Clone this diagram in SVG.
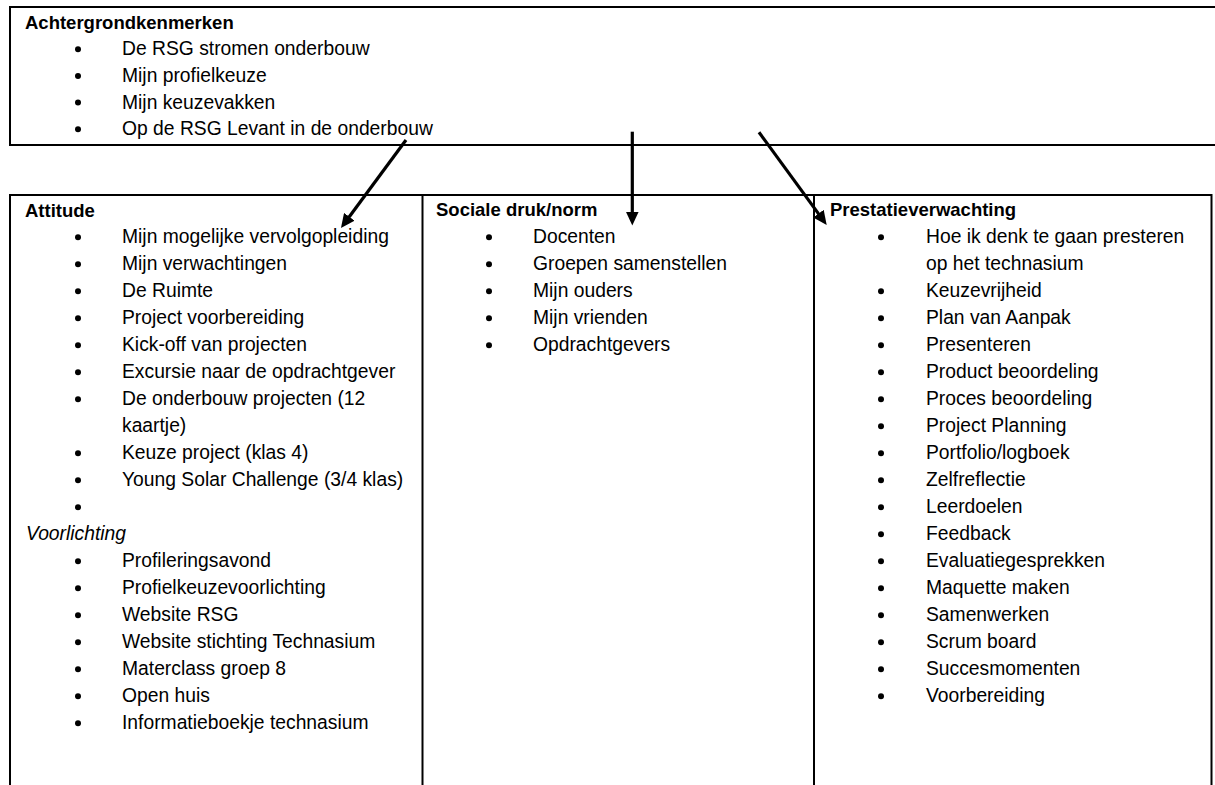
<svg xmlns="http://www.w3.org/2000/svg" width="1215" height="785" viewBox="0 0 1215 785">
<defs>
<style>
text{font-family:"Liberation Sans",Arial,sans-serif;font-size:19.3px;fill:#000}
.h{font-weight:bold;font-size:18.5px}
.it{font-style:italic}
.b{fill:#000}
.frame{stroke:#000;stroke-width:2;fill:none}
.arrow{stroke:#000;stroke-width:3.2;fill:none;marker-end:url(#ah)}
</style>
<marker id="ah" markerUnits="userSpaceOnUse" markerWidth="14" markerHeight="13" refX="4" refY="6.5" orient="auto" viewBox="0 0 14 13">
<path d="M0,0 L14,6.5 L0,13 z" fill="#000"/>
</marker>
</defs>
<rect width="1215" height="785" fill="#fff"/>

<g id="achtergrondkenmerken">
<path class="frame" d="M1215,7 H10 V145 H1215"/>
<text class="h" x="25" y="28.5">Achtergrondkenmerken</text>
<circle class="b" cx="78" cy="49.2" r="3"/><text x="122" y="55.2">De RSG stromen onderbouw</text>
<circle class="b" cx="78" cy="75.9" r="3"/><text x="122" y="81.9">Mijn profielkeuze</text>
<circle class="b" cx="78" cy="102.6" r="3"/><text x="122" y="108.6">Mijn keuzevakken</text>
<circle class="b" cx="78" cy="129.3" r="3"/><text x="122" y="135.3">Op de RSG Levant in de onderbouw</text>
</g>

<g id="table-frame">
<path class="frame" d="M10,785 V195 H1211.5 V785 M422.5,195 V785 M814,195 V785"/>
</g>

<g id="attitude">
<text class="h" x="25" y="216.5">Attitude</text>
<circle class="b" cx="78" cy="237.3" r="3"/><text x="122" y="243.3">Mijn mogelijke vervolgopleiding</text>
<circle class="b" cx="78" cy="264.3" r="3"/><text x="122" y="270.3">Mijn verwachtingen</text>
<circle class="b" cx="78" cy="291.3" r="3"/><text x="122" y="297.3">De Ruimte</text>
<circle class="b" cx="78" cy="318.3" r="3"/><text x="122" y="324.3">Project voorbereiding</text>
<circle class="b" cx="78" cy="345.3" r="3"/><text x="122" y="351.3">Kick-off van projecten</text>
<circle class="b" cx="78" cy="372.3" r="3"/><text x="122" y="378.3">Excursie naar de opdrachtgever</text>
<circle class="b" cx="78" cy="399.3" r="3"/><text x="122" y="405.3">De onderbouw projecten (12</text>
<text x="122" y="432.3">kaartje)</text>
<circle class="b" cx="78" cy="453.3" r="3"/><text x="122" y="459.3">Keuze project (klas 4)</text>
<circle class="b" cx="78" cy="480.3" r="3"/><text x="122" y="486.3">Young Solar Challenge (3/4 klas)</text>
<circle class="b" cx="78" cy="507.3" r="3"/>
<text class="it" x="26" y="540.3">Voorlichting</text>
<circle class="b" cx="78" cy="561.3" r="3"/><text x="122" y="567.3">Profileringsavond</text>
<circle class="b" cx="78" cy="588.3" r="3"/><text x="122" y="594.3">Profielkeuzevoorlichting</text>
<circle class="b" cx="78" cy="615.3" r="3"/><text x="122" y="621.3">Website RSG</text>
<circle class="b" cx="78" cy="642.3" r="3"/><text x="122" y="648.3">Website stichting Technasium</text>
<circle class="b" cx="78" cy="669.3" r="3"/><text x="122" y="675.3">Materclass groep 8</text>
<circle class="b" cx="78" cy="696.3" r="3"/><text x="122" y="702.3">Open huis</text>
<circle class="b" cx="78" cy="723.3" r="3"/><text x="122" y="729.3">Informatieboekje technasium</text>
</g>

<g id="sociale-druk">
<text class="h" x="436" y="215.5">Sociale druk/norm</text>
<circle class="b" cx="489" cy="237.3" r="3"/><text x="533" y="243.3">Docenten</text>
<circle class="b" cx="489" cy="264.3" r="3"/><text x="533" y="270.3">Groepen samenstellen</text>
<circle class="b" cx="489" cy="291.3" r="3"/><text x="533" y="297.3">Mijn ouders</text>
<circle class="b" cx="489" cy="318.3" r="3"/><text x="533" y="324.3">Mijn vrienden</text>
<circle class="b" cx="489" cy="345.3" r="3"/><text x="533" y="351.3">Opdrachtgevers</text>
</g>

<g id="prestatieverwachting">
<text class="h" x="830" y="215.5">Prestatieverwachting</text>
<circle class="b" cx="881" cy="237.3" r="3"/><text x="926" y="243.3">Hoe ik denk te gaan presteren</text>
<text x="926" y="270.3">op het technasium</text>
<circle class="b" cx="881" cy="291.3" r="3"/><text x="926" y="297.3">Keuzevrijheid</text>
<circle class="b" cx="881" cy="318.3" r="3"/><text x="926" y="324.3">Plan van Aanpak</text>
<circle class="b" cx="881" cy="345.3" r="3"/><text x="926" y="351.3">Presenteren</text>
<circle class="b" cx="881" cy="372.3" r="3"/><text x="926" y="378.3">Product beoordeling</text>
<circle class="b" cx="881" cy="399.3" r="3"/><text x="926" y="405.3">Proces beoordeling</text>
<circle class="b" cx="881" cy="426.3" r="3"/><text x="926" y="432.3">Project Planning</text>
<circle class="b" cx="881" cy="453.3" r="3"/><text x="926" y="459.3">Portfolio/logboek</text>
<circle class="b" cx="881" cy="480.3" r="3"/><text x="926" y="486.3">Zelfreflectie</text>
<circle class="b" cx="881" cy="507.3" r="3"/><text x="926" y="513.3">Leerdoelen</text>
<circle class="b" cx="881" cy="534.3" r="3"/><text x="926" y="540.3">Feedback</text>
<circle class="b" cx="881" cy="561.3" r="3"/><text x="926" y="567.3">Evaluatiegesprekken</text>
<circle class="b" cx="881" cy="588.3" r="3"/><text x="926" y="594.3">Maquette maken</text>
<circle class="b" cx="881" cy="615.3" r="3"/><text x="926" y="621.3">Samenwerken</text>
<circle class="b" cx="881" cy="642.3" r="3"/><text x="926" y="648.3">Scrum board</text>
<circle class="b" cx="881" cy="669.3" r="3"/><text x="926" y="675.3">Succesmomenten</text>
<circle class="b" cx="881" cy="696.3" r="3"/><text x="926" y="702.3">Voorbereiding</text>
</g>

<g id="connectors">
<line class="arrow" x1="406" y1="140" x2="346.9" y2="220"/>
<line class="arrow" x1="632.3" y1="131.7" x2="632.3" y2="215.5"/>
<line class="arrow" x1="759" y1="132.3" x2="820.8" y2="216.9"/>
</g>
</svg>
